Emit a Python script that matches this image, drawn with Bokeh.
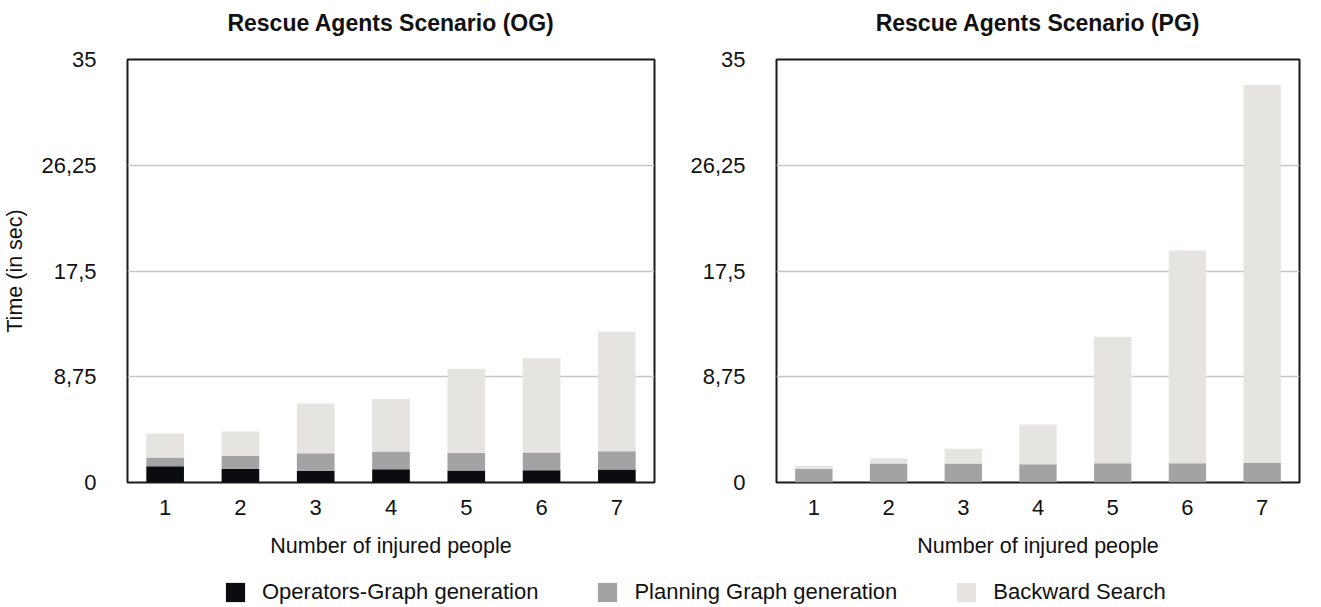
import math
from bokeh.plotting import figure
from bokeh.layouts import column, row
from bokeh.models import ColumnDataSource, Range1d, Legend, LegendItem, FixedTicker, Title
from bokeh.embed import file_html
from bokeh.resources import INLINE

# ---- data ----
people = ["1", "2", "3", "4", "5", "6", "7"]
og_operators = [1.35, 1.13, 0.97, 1.10, 0.99, 1.02, 1.07]
og_planning = [0.72, 1.07, 1.46, 1.46, 1.46, 1.46, 1.52]
og_backward = [1.98, 2.02, 4.11, 4.34, 6.95, 7.81, 9.90]
pg_operators = [0, 0, 0, 0, 0, 0, 0]
pg_planning = [1.13, 1.58, 1.58, 1.52, 1.60, 1.60, 1.63]
pg_backward = [0.25, 0.41, 1.21, 3.28, 10.46, 17.59, 31.25]
series = ["Operators-Graph generation", "Planning Graph generation", "Backward Search"]
colors = ["#0a0c10", "#a3a3a3", "#e6e4e1"]
y_ticks = [0, 8.75, 17.5, 26.25, 35]
y_tick_labels = ["0", "8,75", "17,5", "26,25", "35"]
titles = ["Rescue Agents Scenario (OG)", "Rescue Agents Scenario (PG)"]
x_title = "Number of injured people"
y_title = "Time (in sec)"

FONT = "Liberation Sans"
TXT = "#111111"


def make_chart(title, ops, plan, back, left_border, right_border, width, ylabel):
    src = ColumnDataSource(dict(people=people, ops=ops, plan=plan, back=back))
    p = figure(x_range=people, y_range=Range1d(0, 35), width=width, height=565,
               output_backend="svg", toolbar_location=None,
               min_border_left=left_border, min_border_right=right_border,
               min_border_top=59, min_border_bottom=83)
    p.vbar_stack(["ops", "plan", "back"], x="people", width=0.5, color=colors,
                 line_color=None, source=src)
    # spacer between frame and title
    p.add_layout(Title(text=" ", text_font_size="1px", standoff=14), "above")
    p.title.text = title
    p.title.align = "center"
    p.title.text_font = FONT
    p.title.text_font_size = "23px"
    p.title.text_font_style = "bold"
    p.title.text_color = TXT
    p.title.standoff = 14

    p.yaxis.ticker = FixedTicker(ticks=y_ticks)
    p.yaxis.major_label_overrides = {t: l for t, l in zip(y_ticks, y_tick_labels)}
    for ax in (p.xaxis[0], p.yaxis[0]):
        ax.axis_line_color = None
        ax.major_tick_line_color = None
        ax.minor_tick_line_color = None
        ax.major_label_text_font = FONT
        ax.major_label_text_font_size = "22px"
        ax.major_label_text_color = TXT
        ax.axis_label_text_font = FONT
        ax.axis_label_text_font_size = "21.5px"
        ax.axis_label_text_font_style = "normal"
        ax.axis_label_text_color = TXT
    p.yaxis.major_label_standoff = 25
    p.xaxis.major_label_standoff = 11
    p.xaxis.axis_label = x_title
    p.xaxis.axis_label_standoff = 16
    if ylabel:
        p.yaxis.axis_label = y_title
        p.yaxis.axis_label_standoff = 11

    p.xgrid.grid_line_color = None
    p.ygrid.grid_line_color = "#c6c6c6"
    p.ygrid.grid_line_width = 1.5
    p.outline_line_color = "#1a1a1a"
    p.outline_line_width = 2
    p.outline_line_alpha = 1
    p.x_range.range_padding = 0
    return p


p1 = make_chart(titles[0], og_operators, og_planning, og_backward, 126, 14, 668, True)
p2 = make_chart(titles[1], pg_operators, pg_planning, pg_backward, 108, 14, 645, False)

# legend strip
pl = figure(width=1313, height=42, x_range=Range1d(0, 1), y_range=Range1d(0, 1),
            output_backend="svg", toolbar_location=None, min_border=0)
pl.axis.visible = False
pl.grid.grid_line_color = None
pl.outline_line_color = None
items = []
for s, c in zip(series, colors):
    r = pl.vbar(x=[math.nan], top=[math.nan], width=0.5, color=c, line_color=None)
    items.append(LegendItem(label=s, renderers=[r]))
leg = Legend(items=items, orientation="horizontal", location=(223, 2),
             glyph_width=24, glyph_height=24, label_standoff=15, spacing=57,
             padding=0, margin=0, border_line_color=None, background_fill_alpha=0,
             label_text_font=FONT, label_text_font_size="22px", label_text_color=TXT)
pl.add_layout(leg, "center")

layout = column(row(p1, p2), pl)
open("out.html", "w").write(file_html(layout, INLINE))
